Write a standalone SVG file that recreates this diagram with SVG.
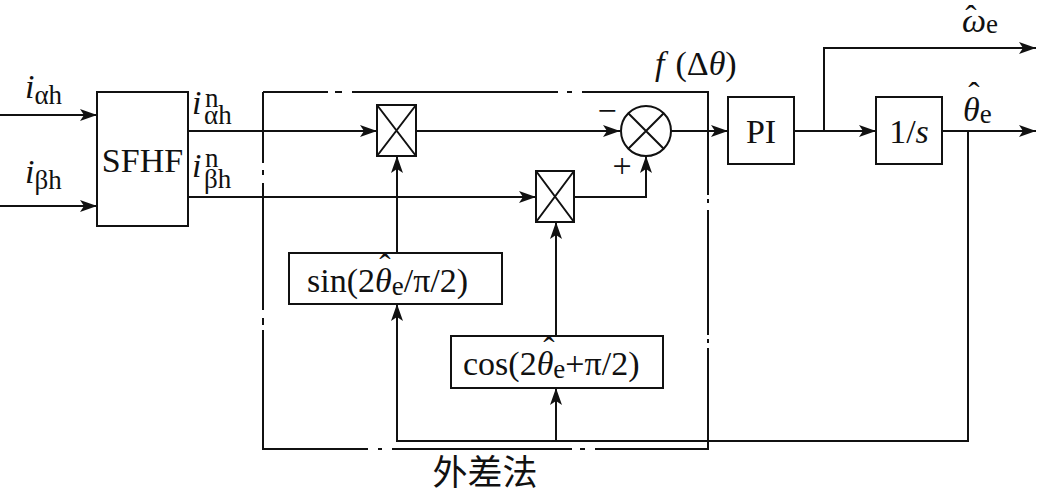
<svg xmlns="http://www.w3.org/2000/svg" width="1039" height="495" viewBox="0 0 1039 495">
<style>
text{font-family:"Liberation Serif","Times New Roman","Noto Sans CJK SC",serif;fill:#111;font-size:34px}
.it{font-style:italic}
.sub{font-size:27px;font-style:normal}
.blk{fill:#fff;stroke:#111;stroke-width:2}
.ln{fill:none;stroke:#111;stroke-width:2}
.cjk{font-family:"Noto Sans CJK SC","Noto Sans CJK JP",sans-serif;font-size:35px}
</style>
<defs>
<marker id="arr" viewBox="0 0 17 12" refX="17" refY="6" markerWidth="17" markerHeight="12" markerUnits="userSpaceOnUse" orient="auto">
<path d="M0,0 L17,6 L0,12 L4,6 Z" fill="#111"/>
</marker>
</defs>
<g id="connectors" class="ln">
<path d="M0,115 H97" marker-end="url(#arr)"/>
<path d="M0,206 H97" marker-end="url(#arr)"/>
<path d="M188,131 H377" marker-end="url(#arr)"/>
<path d="M416,131 H620" marker-end="url(#arr)"/>
<path d="M188,197 H536" marker-end="url(#arr)"/>
<path d="M574,197 H646 V156" marker-end="url(#arr)"/>
<path d="M671,131 H728" marker-end="url(#arr)"/>
<path d="M794,131 H876" marker-end="url(#arr)"/>
<path d="M824,131 V48 H1036" marker-end="url(#arr)"/>
<path d="M942,131 H1036" marker-end="url(#arr)"/>
<path d="M968,131 V441 H397 V304" marker-end="url(#arr)"/>
<path d="M556,441 V388" marker-end="url(#arr)"/>
<path d="M397,253 V156" marker-end="url(#arr)"/>
<path d="M556,336 V222" marker-end="url(#arr)"/>
</g>
<g id="boundary" class="ln">
<path d="M263,92 H328 M335,92 H342 M352,92 H558 M567,92 H572 M582,92 H708 V195 M708,199 V203 M708,210 V335 M708,339 V343 M708,348 V449 H595 M585,449 H580 M572,449 H392 M382,449 H378 M368,449 H263 V330 M263,325 V318 M263,310 V183 M263,175 V170 M263,163 V92"/>
</g>
<g id="in-labels">
<text x="25" y="98" class="it">i<tspan class="sub" dy="6">αh</tspan></text>
<text x="25" y="183" class="it">i<tspan class="sub" dy="6">βh</tspan></text>
<text x="192" y="114" class="it">i</text>
<text x="205" y="107" class="sub">n</text>
<text x="204" y="124" class="sub">αh</text>
<text x="192" y="177" class="it">i</text>
<text x="205" y="167" class="sub">n</text>
<text x="204" y="188" class="sub">βh</text>
</g>
<g id="sfhf">
<rect class="blk" x="97" y="92" width="91" height="134"/>
<text x="142.5" y="172" text-anchor="middle">SFHF</text>
</g>
<g id="mult1">
<rect class="blk" x="377" y="105" width="39" height="51"/>
<path class="ln" d="M377,105 L416,156 M416,105 L377,156"/>
</g>
<g id="mult2">
<rect class="blk" x="536" y="171" width="38" height="51"/>
<path class="ln" d="M536,171 L574,222 M574,171 L536,222"/>
</g>
<g id="sum">
<circle class="blk" cx="646" cy="131" r="25"/>
<path class="ln" d="M628.3,113.3 L663.7,148.7 M663.7,113.3 L628.3,148.7"/>
<text x="607" y="122" text-anchor="middle" font-size="30">−</text>
<text x="622" y="177" text-anchor="middle" font-size="30">+</text>
</g>
<g id="f-label">
<text x="655" y="75"><tspan class="it">f</tspan><tspan dx="11">(Δ</tspan><tspan class="it">θ</tspan>)</text>
</g>
<g id="pi">
<rect class="blk" x="728" y="97" width="66" height="67"/>
<text x="761" y="143" text-anchor="middle">PI</text>
</g>
<g id="integrator">
<rect class="blk" x="876" y="97" width="66" height="67"/>
<text x="909" y="143" text-anchor="middle">1/<tspan class="it">s</tspan></text>
</g>
<g id="out-labels">
<text x="962" y="32" class="it">ω<tspan class="sub" dy="1">e</tspan></text>
<text x="971" y="29" text-anchor="middle">ˆ</text>
<text x="963" y="121" class="it">θ<tspan class="sub" dy="2">e</tspan></text>
<text x="974" y="106" text-anchor="middle">ˆ</text>
</g>
<g id="sin">
<rect class="blk" x="289" y="253" width="213" height="51"/>
<text x="307" y="292">sin(2<tspan class="it">θ</tspan><tspan class="sub" dy="3">e</tspan><tspan dy="-3">/π/2)</tspan></text>
<text x="385" y="278" text-anchor="middle">ˆ</text>
</g>
<g id="cos">
<rect class="blk" x="451" y="336" width="212" height="52"/>
<text x="463" y="375">cos(2<tspan class="it">θ</tspan><tspan class="sub" dy="3">e</tspan><tspan dy="-3">+π/2)</tspan></text>
<text x="549" y="361" text-anchor="middle">ˆ</text>
</g>
<g id="title">
<text x="485" y="485" text-anchor="middle" class="cjk">外差法</text>
</g>
</svg>
